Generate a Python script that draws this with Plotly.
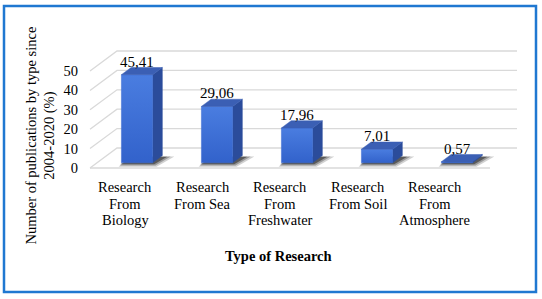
import plotly.graph_objects as go

categories = ["Research<br>From<br>Biology", "Research<br>From Sea", "Research<br>From<br>Freshwater",
              "Research<br>From Soil", "Research<br>From<br>Atmosphere"]
values = [45.41, 29.06, 17.96, 7.01, 0.57]
value_labels = ["45,41", "29,06", "17,96", "7,01", "0,57"]
y_ticks = [0, 10, 20, 30, 40, 50]

W, H = 542, 299
# pixel <-> data mapping (margins are zero, axes span the whole figure)
X0PX, XSTEP = 90, 80          # front-left corner of floor, pixels per category
Y0PX, YSCALE = 168, 1.94      # pixel of value 0 on front plane, pixels per unit
x_range = [-0.5 - X0PX / XSTEP, (W - X0PX) / XSTEP - 0.5]
y_range = [(Y0PX - H) / YSCALE, Y0PX / YSCALE]

DX = 27 / XSTEP               # full depth offset in x units
DY = 20 / YSCALE              # full depth offset in y units
F0, F1 = 0.26, 0.62           # bar depth span (fraction of full depth)
BW = 0.39                     # bar width in category units
n = len(values)

fig = go.Figure()

# gridlines: left wall diagonals + back wall
grid_x, grid_y = [], []
for t in y_ticks:
    grid_x += [-0.5, -0.5 + DX, n - 0.5 + DX, None]
    grid_y += [t, t + DY, t + DY, None]
grid_x += [-0.5, n - 0.5, None]
grid_y += [0, 0, None]
fig.add_trace(go.Scatter(x=grid_x, y=grid_y, mode="lines",
                         line=dict(color="#d9d9d9", width=1.3), hoverinfo="skip"))

# soft shadows under the bars
for i, v in enumerate(values):
    xl = i - BW / 2 + F0 * DX
    xr = i + BW / 2 + F0 * DX
    ddx = (F1 - F0) * DX
    for grow, alpha in [(1.0, 0.2), (0.7, 0.3), (0.4, 0.5)]:
        sx = [xl - 0.035 * grow, xr + 0.05 * grow,
              xr + ddx + 0.15 * grow, xl + ddx + 0.02 * grow]
        sy = [F0 * DY - 2.0 * grow, F0 * DY - 2.0 * grow,
              F1 * DY - 0.8 + 0.4 * grow, F1 * DY - 0.8 + 0.4 * grow]
        fig.add_trace(go.Scatter(x=sx + [sx[0]], y=sy + [sy[0]], mode="lines", fill="toself",
                                 fillcolor=f"rgba(25,25,25,{alpha})", line=dict(width=0),
                                 hoverinfo="skip"))

# bars
for i, v in enumerate(values):
    xl = i - BW / 2 + F0 * DX
    xr = i + BW / 2 + F0 * DX
    ddx = (F1 - F0) * DX
    b0 = F0 * DY
    b1 = F1 * DY
    top0 = v + b0
    top1 = v + b1
    # side face
    fig.add_trace(go.Scatter(x=[xr, xr, xr + ddx, xr + ddx, xr], y=[b0, top0, top1, b1, b0],
                             mode="lines", fill="toself", fillcolor="#2b4c9b",
                             line=dict(width=0.5, color="#2b4c9b"), hoverinfo="skip"))
    # front face
    fig.add_trace(go.Scatter(x=[xl, xr, xr, xl, xl], y=[b0, b0, top0, top0, b0],
                             mode="lines", fill="toself",
                             fillgradient=dict(type="vertical",
                                               colorscale=[[0, "#3262cb"], [1, "#4a7de0"]]),
                             line=dict(width=0.5, color="#3a6ad3"), hoverinfo="skip"))
    # top face
    fig.add_trace(go.Scatter(x=[xl, xr, xr + ddx, xl + ddx, xl], y=[top0, top0, top1, top1, top0],
                             mode="lines", fill="toself", fillcolor="#3b5fb4",
                             line=dict(width=0.5, color="#3b5fb4"), hoverinfo="skip"))
    # data label
    fig.add_annotation(x=i + F0 * DX, y=top0 + 13 / YSCALE, text=value_labels[i],
                       showarrow=False, xanchor="center", yanchor="middle",
                       font=dict(family="Liberation Serif", size=15, color="#000"))

# category labels (one annotation per line for tighter line spacing)
for i, c in enumerate(categories):
    for j, line in enumerate(c.split("<br>")):
        fig.add_annotation(x=i * 0.968 - 0.06, y=1 - (187 + 16.5 * j) / H, yref="paper", text=line,
                           showarrow=False, xanchor="center", yanchor="middle",
                           font=dict(family="Liberation Serif", size=14.5, color="#000"))

# y-axis title
fig.add_annotation(x=40.5 / W, y=1 - 136 / H, xref="paper", yref="paper",
                   text="Number of publications by type since<br>2004-2020 (%)",
                   textangle=-90, showarrow=False, xanchor="center", yanchor="middle",
                   font=dict(family="Liberation Serif", size=14.5, color="#000"))
# x-axis title
fig.add_annotation(x=278 / W, y=1 - 256 / H, xref="paper", yref="paper",
                   text="<b>Type of Research</b>", showarrow=False,
                   xanchor="center", yanchor="middle",
                   font=dict(family="Liberation Serif", size=14.5, color="#000"))

# border
fig.add_shape(type="rect", xref="paper", yref="paper",
              x0=4 / W, x1=536 / W, y0=1 - 292 / H, y1=1 - 6 / H,
              line=dict(color="#1f78d1", width=2.5))

fig.update_layout(
    width=W, height=H, autosize=False,
    margin=dict(l=0, r=0, t=0, b=0),
    paper_bgcolor="white", plot_bgcolor="white",
    showlegend=False,
    xaxis=dict(range=x_range, visible=False, fixedrange=True),
    yaxis=dict(range=y_range, anchor="free", position=X0PX / W,
               tickvals=y_ticks, ticktext=[str(t) for t in y_ticks],
               showgrid=False, zeroline=False, showline=False, ticks="",
               ticklabelstandoff=12,
               tickfont=dict(family="Liberation Serif", size=14.5, color="#000"),
               fixedrange=True),
)

fig.write_html("out.html", config={"displayModeBar": False},
               post_script="document.body.style.margin='0';document.body.style.overflow='hidden';")
